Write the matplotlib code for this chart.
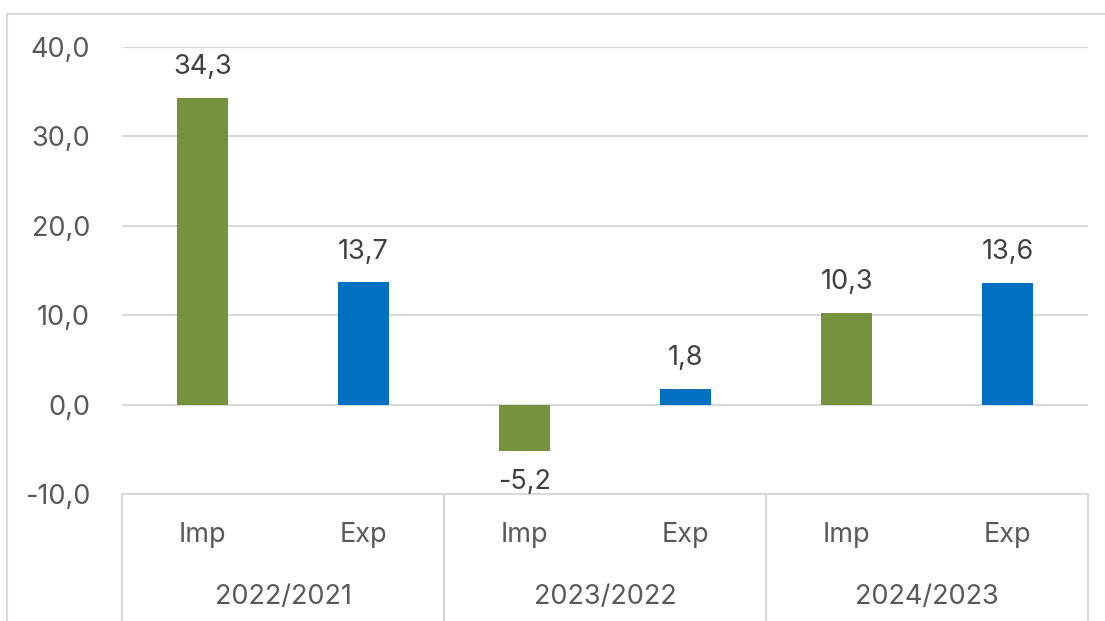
import matplotlib.pyplot as plt
import matplotlib.transforms as mtransforms
from matplotlib.lines import Line2D
from matplotlib.patches import Rectangle

plt.rcParams['font.family'] = ['Inter', 'DejaVu Sans']

periods = ['2022/2021', '2023/2022', '2024/2023']
flows = ['Imp', 'Exp']
values = [34.3, 13.7, -5.2, 1.8, 10.3, 13.6]
colors = ['#76923C', '#0070C0']
yticks = [-10, 0, 10, 20, 30, 40]

fig = plt.figure(figsize=(11.05, 6.21), dpi=100)
W, H = 1105, 621
fs = 19.5

# outer chart border
fig.patches.append(Rectangle((7 / W, -0.1), 1.2, 1 - 14 / H + 0.1,
                             transform=fig.transFigure, fill=False,
                             edgecolor='#D9D9D9', linewidth=1.5))

ax = fig.add_axes([122 / W, 1 - 494 / H, (1088 - 122) / W, (494 - 47) / H])

x = list(range(len(values)))
bar_colors = [colors[i % 2] for i in x]
ax.bar(x, values, width=0.32, color=bar_colors, zorder=3)

ax.set_xlim(-0.5, len(values) - 0.5)
ax.set_ylim(-10, 40)
ax.set_yticks(yticks)
ax.set_yticklabels([f'{t:.1f}'.replace('.', ',') for t in yticks])
ax.tick_params(axis='y', length=0, pad=23, labelsize=fs, labelcolor='#595959')
ax.set_xticks([])
ax.grid(axis='y', color='#D9D9D9', linewidth=1.5, zorder=0)
for s in ['top', 'right', 'left']:
    ax.spines[s].set_visible(False)
ax.spines['bottom'].set_color('#D9D9D9')
ax.spines['bottom'].set_linewidth(1.5)

for xi, v in zip(x, values):
    off = 22 if v >= 0 else -22
    ax.annotate(f'{v:.1f}'.replace('.', ','), (xi, v), xytext=(0, off),
                textcoords='offset points', ha='center', va='center',
                fontsize=fs, color='#404040')

# multi-level category axis
blend = mtransforms.blended_transform_factory(ax.transData, fig.transFigure)
y_axis = 1 - 494 / H
for b in [-0.5, 1.5, 3.5, 5.5]:
    ax.add_line(Line2D([b, b], [y_axis, 0], transform=blend, color='#D9D9D9',
                       linewidth=1.5, clip_on=False))
for xi in x:
    ax.text(xi, 1 - 535 / H, flows[xi % 2], transform=blend, ha='center',
            va='center', fontsize=fs, color='#595959')
for i, p in enumerate(periods):
    ax.text(2 * i + 0.5, 1 - 597 / H, p, transform=blend, ha='center',
            va='center', fontsize=fs, color='#595959')

fig.savefig('out.png', dpi=100)
